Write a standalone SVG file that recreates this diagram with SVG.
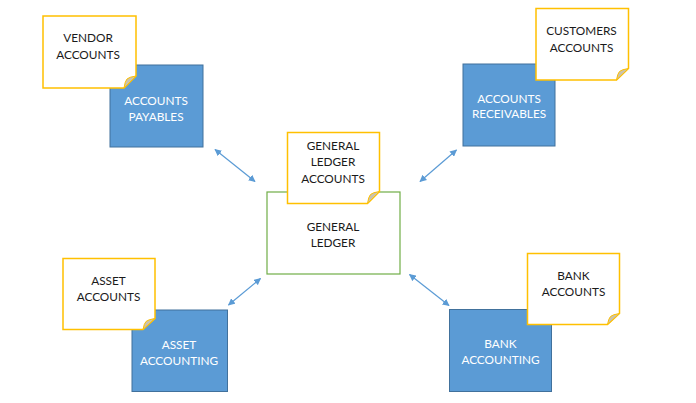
<svg xmlns="http://www.w3.org/2000/svg" width="696" height="403" viewBox="0 0 696 403">
<defs>
<style>
.blue{fill:#5B9BD5;stroke:#41719C;stroke-width:1}
.note{fill:#FFFFFF;stroke:#FFC000;stroke-width:1.5}
.fold{fill:#CBC3AC;stroke:#FFC000;stroke-width:1}
.gl{fill:#FFFFFF;stroke:#70AD47;stroke-width:1.2}
.t{font-family:Lato,"Liberation Sans",sans-serif;font-size:11.8px;text-anchor:middle}
.dark{fill:#1A1A1A}
.light{fill:#FFFFFF}
.conn{stroke:#5B9BD5;stroke-width:1.2;fill:none;marker-start:url(#ah);marker-end:url(#ah)}
</style>
<marker id="ah" viewBox="0 0 10 10" refX="9" refY="5" markerWidth="7" markerHeight="7" markerUnits="userSpaceOnUse" orient="auto-start-reverse">
<path d="M0,0 L10,5 L0,10 Z" fill="#5B9BD5"/>
</marker>
</defs>
<rect width="696" height="403" fill="#FFFFFF"/>

<g id="connectors">
<line class="conn" x1="215" y1="149.5" x2="255" y2="181.5"/>
<line class="conn" x1="456.5" y1="150" x2="420" y2="181.5"/>
<line class="conn" x1="260.5" y1="278.5" x2="228.5" y2="305"/>
<line class="conn" x1="409.5" y1="274.5" x2="449" y2="305.5"/>
</g>

<g id="accounts-payables">
<rect class="blue" x="110" y="65" width="93" height="82"/>
<text class="t light" x="156" y="104.5">ACCOUNTS</text>
<text class="t light" x="156" y="120.5">PAYABLES</text>
</g>
<g id="vendor-accounts">
<polygon class="note" points="43,16 136,16 136,76 124,88 43,88"/>
<path class="fold" d="M124,88 L136,76 Q129,77 127,79 Q125,81 124,88 Z"/>
<text class="t dark" x="88" y="42">VENDOR</text>
<text class="t dark" x="88" y="58.5">ACCOUNTS</text>
</g>

<g id="accounts-receivables">
<rect class="blue" x="463" y="64" width="92" height="82"/>
<text class="t light" x="509" y="102.5">ACCOUNTS</text>
<text class="t light" x="509" y="118">RECEIVABLES</text>
</g>
<g id="customers-accounts">
<polygon class="note" points="536,8.5 628.5,8.5 628.5,68.5 616.5,80 536,80"/>
<path class="fold" d="M616.5,80 L628.5,68.5 Q621.5,69.5 619.5,71.5 Q617.5,73.5 616.5,80 Z"/>
<text class="t dark" x="581.5" y="35">CUSTOMERS</text>
<text class="t dark" x="581.5" y="51.5">ACCOUNTS</text>
</g>

<g id="general-ledger">
<rect class="gl" x="267" y="192" width="133" height="82"/>
<text class="t dark" x="333" y="231">GENERAL</text>
<text class="t dark" x="333" y="247">LEDGER</text>
</g>
<g id="general-ledger-accounts">
<polygon class="note" points="287.5,132.5 379.5,132.5 379.5,191.5 367.5,203.5 287.5,203.5"/>
<path class="fold" d="M367.5,203.5 L379.5,191.5 Q372.5,192.5 370.5,194.5 Q368.5,196.5 367.5,203.5 Z"/>
<text class="t dark" x="333" y="149.5">GENERAL</text>
<text class="t dark" x="333" y="166.3">LEDGER</text>
<text class="t dark" x="333" y="183">ACCOUNTS</text>
</g>

<g id="asset-accounting">
<rect class="blue" x="132" y="310" width="95.5" height="81.5"/>
<text class="t light" x="179" y="348.5">ASSET</text>
<text class="t light" x="179" y="364.5">ACCOUNTING</text>
</g>
<g id="asset-accounts">
<polygon class="note" points="63,258.5 155,258.5 155,318.5 143,329.5 63,329.5"/>
<path class="fold" d="M143,329.5 L155,318.5 Q148,319.5 146,321.5 Q144,323.5 143,329.5 Z"/>
<text class="t dark" x="108.5" y="285">ASSET</text>
<text class="t dark" x="108.5" y="301">ACCOUNTS</text>
</g>

<g id="bank-accounting">
<rect class="blue" x="449.5" y="309.5" width="102" height="82"/>
<text class="t light" x="500.5" y="347.5">BANK</text>
<text class="t light" x="500.5" y="363.5">ACCOUNTING</text>
</g>
<g id="bank-accounts">
<polygon class="note" points="527.5,253.5 619.5,253.5 619.5,313.5 607.5,324.5 527.5,324.5"/>
<path class="fold" d="M607.5,324.5 L619.5,313.5 Q612.5,314.5 610.5,316.5 Q608.5,318.5 607.5,324.5 Z"/>
<text class="t dark" x="573.5" y="280">BANK</text>
<text class="t dark" x="573.5" y="296">ACCOUNTS</text>
</g>
</svg>
